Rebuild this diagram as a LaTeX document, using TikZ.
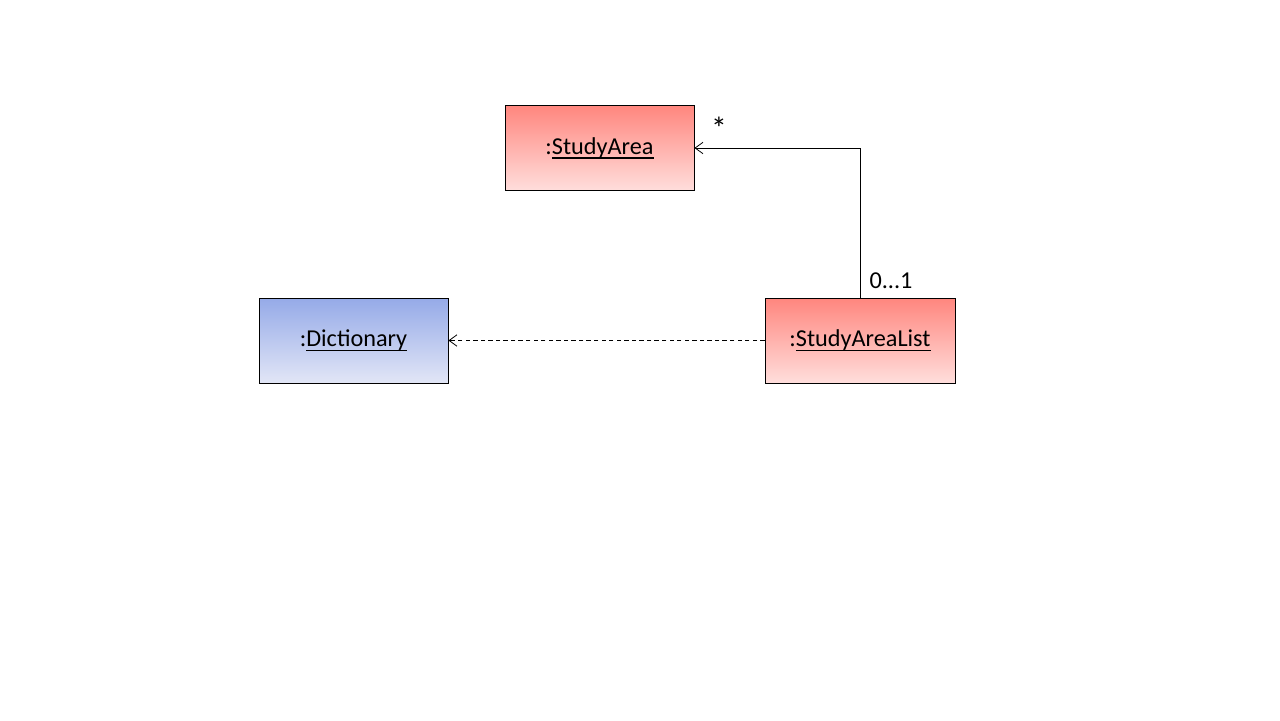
\documentclass[tikz,border=0pt]{standalone}
\usepackage{fontspec}
\setmainfont{Carlito}
\usepackage{xcolor}
\usepackage{tikz}
\usetikzlibrary{arrows.meta}
\definecolor{objred}{RGB}{255, 134, 126}
\definecolor{objredlight}{RGB}{255, 222, 220}
\definecolor{objblue}{RGB}{149, 170, 232}
\definecolor{objbluelight}{RGB}{226, 230, 246}
\newcommand{\objname}[1]{{\setbox0\hbox{#1}\rlap{\rule[-2.6pt]{\wd0}{0.9pt}}\box0}}

\begin{document}
\begin{tikzpicture}[x=0.02cm, y=-0.02cm,
  object/.style={draw, line width=0.5pt, minimum width=3.78cm, minimum height=1.7cm,
                 align=center, font=\fontsize{13.8}{16}\selectfont},
  redobj/.style={object, top color=objred, bottom color=objredlight},
  blueobj/.style={object, top color=objblue, bottom color=objbluelight},
  assoc/.style={-{Straight Barb[length=4.5pt, width=6.5pt]}, line width=0.45pt},
  depend/.style={assoc, dashed, dash pattern=on 2.5pt off 1.8pt},
  mult/.style={font=\fontsize{13.8}{16}\selectfont}
]
  \useasboundingbox (0,0) rectangle (1280,720);

  \node[redobj]  (area) at (599.5, 148) {:\objname{StudyArea}};
  \node[blueobj] (dict) at (353.5, 340.5) {:\objname{Dictionary}};
  \node[redobj, minimum width=3.8cm] (list) at (860, 340.5) {:\objname{StudyAreaList}};

  \draw[assoc] (list.north) |- (area.east);
  \draw[depend] (list.west) -- (dict.east);

  \node[mult, font=\fontsize{18}{20}\selectfont] (star) at (719, 128) {*};
  \node[mult] (one) at (891, 281) {0...1};
\end{tikzpicture}
\end{document}
